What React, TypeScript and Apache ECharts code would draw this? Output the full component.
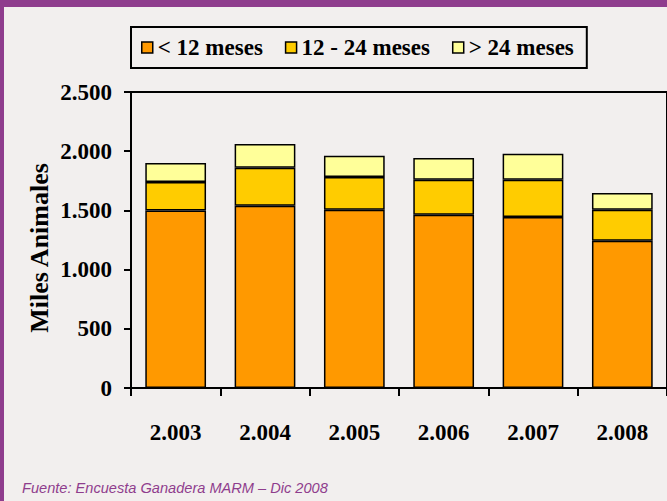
import React, { useEffect, useRef } from "react";
import * as echarts from "echarts";

const categories = ["2.003", "2.004", "2.005", "2.006", "2.007", "2.008"];
const under12 = [1500, 1540, 1505, 1464, 1444, 1244];
const from12to24 = [240, 320, 277, 295, 315, 262];
const over24 = [160, 200, 180, 184, 220, 141];
const seriesNames = ["< 12 meses", "12 - 24 meses", "> 24 meses"];
const seriesColors = ["#FF9900", "#FFCC00", "#FFFF99"];
const yTicks = { min: 0, max: 2500, interval: 500 };
const yAxisTitle = "Miles Animales";
const footer = "Fuente: Encuesta Ganadera MARM – Dic 2008";

const fmt = (v: number) =>
  v >= 1000 ? `${Math.floor(v / 1000)}.${String(v % 1000).padStart(3, "0")}` : String(v);

export default function App() {
  const ref = useRef<HTMLDivElement>(null);
  useEffect(() => {
    if (!ref.current) return;
    const chart = echarts.init(ref.current, null, { renderer: "svg" });
    const serif = "Liberation Serif";
    const purple = "#8f3d8d";
    const data = [under12, from12to24, over24];
    chart.setOption({
      animation: false,
      backgroundColor: "#f2efee",
      textStyle: { fontFamily: serif },
      graphic: [
        { type: "rect", left: 0, top: 0, shape: { width: 667, height: 7 }, style: { fill: purple }, silent: true },
        { type: "rect", left: 0, top: 0, shape: { width: 4, height: 501 }, style: { fill: purple }, silent: true },
        {
          type: "text",
          left: 22,
          top: 480,
          style: {
            text: footer,
            fill: purple,
            font: "italic 14.6px 'Liberation Sans', Arial, sans-serif",
          },
        },
        {
          type: "text",
          x: 39,
          y: 248,
          rotation: Math.PI / 2,
          style: {
            text: yAxisTitle,
            fill: "#000",
            font: "bold 26px 'Liberation Serif', serif",
            align: "center",
            verticalAlign: "middle",
          },
        },
      ],
      legend: {
        left: 131,
        top: 27,
        padding: [9, 13, 9, 10],
        itemWidth: 11,
        itemHeight: 11,
        itemGap: 22,
        borderColor: "#000",
        borderWidth: 2,
        icon: "rect",
        itemStyle: { borderColor: "#000", borderWidth: 1.5 },
        textStyle: { fontFamily: serif, fontWeight: "bold", fontSize: 23, color: "#000" },
        data: seriesNames,
      },
      grid: {
        left: 131,
        right: -1,
        top: 92,
        bottom: 113,
        show: true,
        borderColor: "#000",
        borderWidth: 2,
        backgroundColor: "transparent",
      },
      xAxis: {
        type: "category",
        data: categories,
        axisLine: { lineStyle: { color: "#000", width: 2 } },
        axisTick: { show: true, length: 8, lineStyle: { color: "#000", width: 2 } },
        axisLabel: { margin: 33, fontFamily: serif, fontWeight: "bold", fontSize: 23, color: "#000" },
      },
      yAxis: {
        type: "value",
        min: yTicks.min,
        max: yTicks.max,
        interval: yTicks.interval,
        splitLine: { show: false },
        axisLine: { show: true, lineStyle: { color: "#000", width: 2 } },
        axisTick: { show: true, length: 7, lineStyle: { color: "#000", width: 2 } },
        axisLabel: { margin: 19, formatter: fmt, fontFamily: serif, fontWeight: "bold", fontSize: 23, color: "#000" },
      },
      series: seriesNames.map((name, i) => ({
        name,
        type: "bar",
        stack: "total",
        barWidth: "68%",
        data: data[i],
        itemStyle: { color: seriesColors[i], borderColor: "#000", borderWidth: 1.5 },
      })),
    });
    return () => chart.dispose();
  }, []);
  return <div ref={ref} style={{ position: "absolute", left: 0, top: 0, width: 667, height: 501 }} />;
}
